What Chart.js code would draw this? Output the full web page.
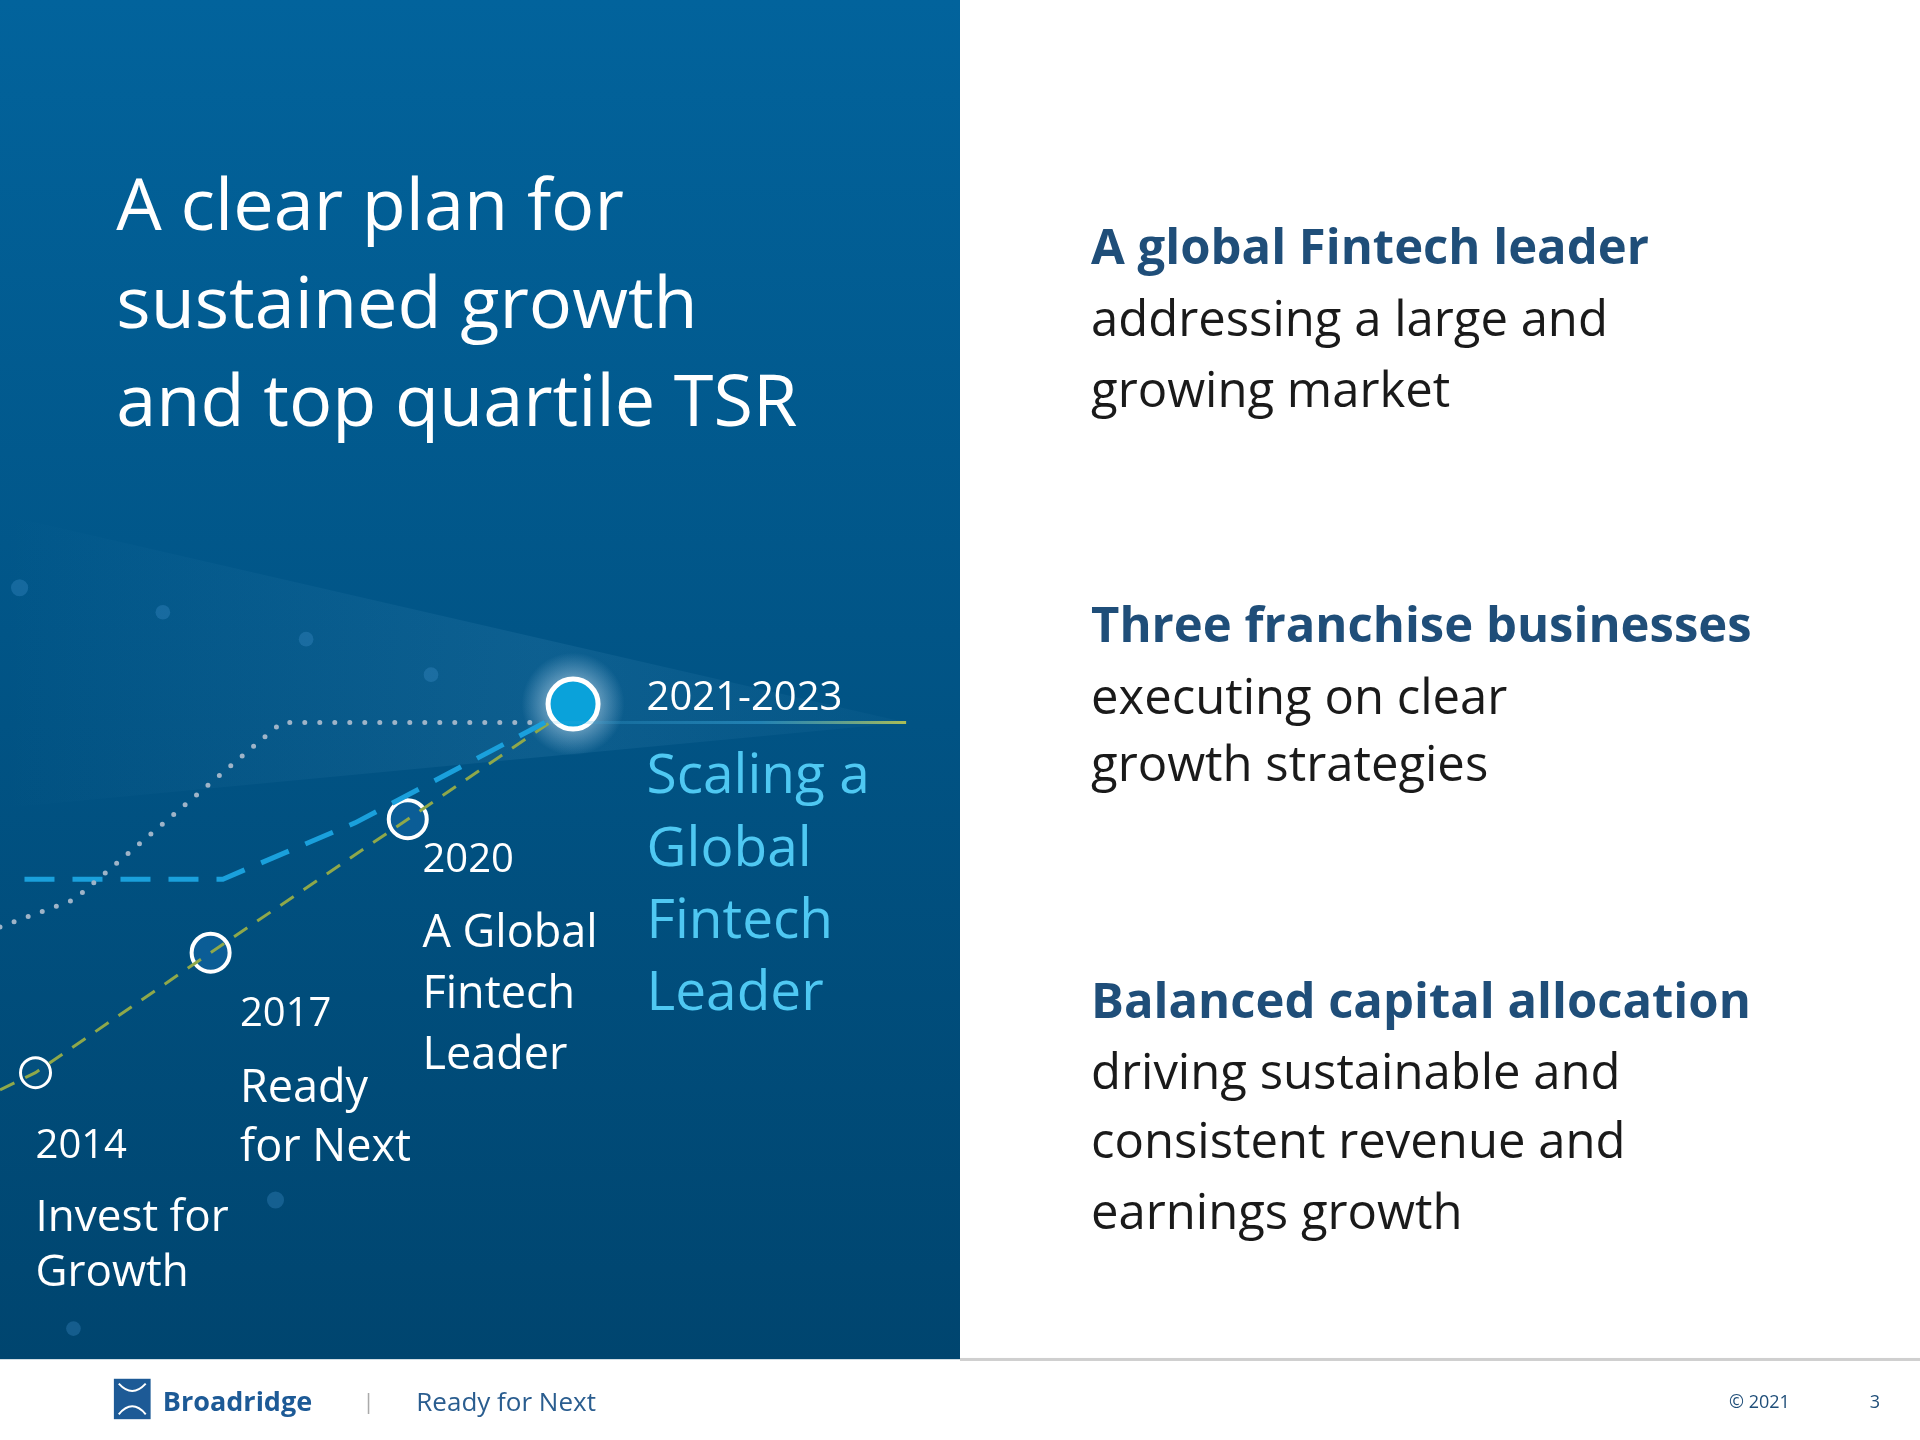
<!DOCTYPE html>
<html><head><meta charset="utf-8">
<script src="https://cdn.jsdelivr.net/npm/chart.js@4"></script>
<style>html,body{margin:0;padding:0;background:#fff}#w{width:1920px;height:1440px}</style>
</head><body><div id="w"><canvas id="c"></canvas></div>
<script>
// Diagram coordinates in slide units (1568 x 1176 slide)
const milestoneNames = ["2014","2017","2020","2021-2023"];
const milestoneX = [29,172,333,468];
const milestoneY = [876,778,669,575];
const greenPathX = [0,29,172,333,452];
const greenPathY = [890,876,778,669,588];
const bluePathX = [20,182,290,445];
const bluePathY = [718,718,672,590];
const grayPathX = [0,60,230,440];
const grayPathY = [757,735,590,590];
const rayX = [440,740];
const rayY = [590,590];

const pts=(xs,ys)=>xs.map((x,i)=>({x,y:ys[i]}));
const K=1920/1568;
const F=s=>Math.round(s*K);

const bg={id:'bg',beforeDraw(ch){const c=ch.ctx,sx=ch.scales.x,sy=ch.scales.y;
 const X=v=>sx.getPixelForValue(v),Y=v=>sy.getPixelForValue(v);
 c.save();c.fillStyle='#fff';c.fillRect(0,0,ch.width,ch.height);
 let g=c.createLinearGradient(0,0,0,Y(1110));g.addColorStop(0,'#02639c');g.addColorStop(1,'#00456f');
 c.fillStyle=g;c.fillRect(0,0,X(784),Y(1110));
 let g2=c.createLinearGradient(X(0),0,X(740),0);g2.addColorStop(0,'rgba(120,190,230,0.0)');g2.addColorStop(0.6,'rgba(120,190,230,0.10)');g2.addColorStop(1,'rgba(120,190,230,0.03)');
 c.fillStyle=g2;c.beginPath();c.moveTo(X(0),Y(420));c.lineTo(X(740),Y(590));c.lineTo(X(0),Y(660));c.closePath();c.fill();
 [[16,480,7],[133,500,6],[250,522,6],[352,551,6],[225,980,7],[60,1085,6]].forEach(d=>{c.fillStyle='rgba(70,150,210,0.3)';c.beginPath();c.arc(X(d[0]),Y(d[1]),d[2]*K,0,7);c.fill();});
 let rg=c.createRadialGradient(X(468),Y(575),0,X(468),Y(575),42*K);rg.addColorStop(0,'rgba(255,255,255,0.9)');rg.addColorStop(0.5,'rgba(220,240,255,0.4)');rg.addColorStop(1,'rgba(200,230,255,0)');
 c.fillStyle=rg;c.beginPath();c.arc(X(468),Y(575),42*K,0,7);c.fill();
 c.fillStyle='#cfcfcf';c.fillRect(X(784),Y(1109),X(1568)-X(784),3);
 c.restore();}};

const txt={id:'txt',afterDraw(ch){const c=ch.ctx,sx=ch.scales.x,sy=ch.scales.y;
 const X=v=>sx.getPixelForValue(v),Y=v=>sy.getPixelForValue(v);
 const T=(s,x,y,size,col,w,fam)=>{c.font=(w||'normal')+' '+F(size)+'px '+(fam||'"Open Sans"');c.fillStyle=col;c.textAlign='left';c.fillText(s,X(x),Y(y));};
 c.save();c.textBaseline='alphabetic';
 ['A clear plan for','sustained growth','and top quartile TSR'].forEach((s,i)=>T(s,95,188+i*80,59,'#fff'));
 const H='#1f4e79',B='#1a1a1a';
 T('A global Fintech leader',891,216,40,H,'bold');T('addressing a large and',891,274,40,B);T('growing market',891,332,40,B);
 T('Three franchise businesses',891,524,40,H,'bold');T('executing on clear',891,583,40,B);T('growth strategies',891,638,40,B);
 T('Balanced capital allocation',891,831,40,H,'bold');T('driving sustainable and',891,889,40,B);T('consistent revenue and',891,946,40,B);T('earnings growth',891,1004,40,B);
 T(milestoneNames[3],528,580,33,'#fff');
 ['Scaling a','Global','Fintech','Leader'].forEach((s,i)=>T(s,528,648+i*59,45,'#4fc8f2'));
 T(milestoneNames[2],345,712,33,'#fff');['A Global','Fintech','Leader'].forEach((s,i)=>T(s,345,773+i*50,37,'#fff'));
 T(milestoneNames[1],196,838,33,'#fff');['Ready','for Next'].forEach((s,i)=>T(s,196,900+i*48,37,'#fff'));
 T(milestoneNames[0],29,946,33,'#fff');['Invest for','Growth'].forEach((s,i)=>T(s,29,1005+i*45,36,'#fff'));
 c.fillStyle='#1d5a96';c.fillRect(X(93),Y(1126),X(123)-X(93),Y(1159)-Y(1126));
 c.strokeStyle='#fff';c.lineWidth=2;c.beginPath();c.moveTo(X(97),Y(1130));c.quadraticCurveTo(X(108),Y(1142),X(119),Y(1130));c.moveTo(X(97),Y(1155));c.quadraticCurveTo(X(108),Y(1142),X(119),Y(1155));c.stroke();
 T('Broadridge',133,1152,22,'#1d5a96','bold');T('|',296,1151,18,'#aaa');T('Ready for Next',340,1152,21,'#2a5d8f');
 T('© 2021',1412,1150,15,'#1f4e79');T('3',1527,1150,15,'#1f4e79');
 c.restore();}};

new Chart(document.getElementById('c'),{type:'line',
 data:{datasets:[
  {data:pts(rayX,rayY),borderColor:(ctx)=>{const a=ctx.chart.chartArea;if(!a)return '#8a9';const s=ctx.chart.scales.x;const g=ctx.chart.ctx.createLinearGradient(s.getPixelForValue(440),0,s.getPixelForValue(740),0);g.addColorStop(0,'rgba(60,170,220,0.1)');g.addColorStop(0.6,'rgba(60,170,220,0.5)');g.addColorStop(1,'rgba(190,200,80,0.9)');return g;},borderWidth:3,pointRadius:0},
  {data:pts(grayPathX,grayPathY),borderColor:'#9fb4c8',borderWidth:5,borderDash:[0,15],borderCapStyle:'round',pointRadius:0},
  {data:pts(bluePathX,bluePathY),borderColor:'#1aa0dc',borderWidth:5,borderDash:[30,18],pointRadius:0},
  {data:pts(greenPathX,greenPathY),borderColor:'#8fa84a',borderWidth:3,borderDash:[16,12],pointRadius:0},
  {data:pts(milestoneX,milestoneY),showLine:false,pointRadius:[15,19,19,25],pointBackgroundColor:['#03507f','#0b5d96','#0b5d96','#0aa2da'],pointBorderColor:'#fff',pointBorderWidth:[3,4,4,5]}
 ]},
 options:{responsive:true,maintainAspectRatio:false,animation:false,events:[],
  layout:{padding:0,autoPadding:false},clip:false,
  plugins:{legend:{display:false},tooltip:{enabled:false}},
  scales:{x:{type:'linear',min:0,max:1568,display:false},y:{type:'linear',min:0,max:1176,reverse:true,display:false}}},
 plugins:[bg,txt]});
</script></body></html>
